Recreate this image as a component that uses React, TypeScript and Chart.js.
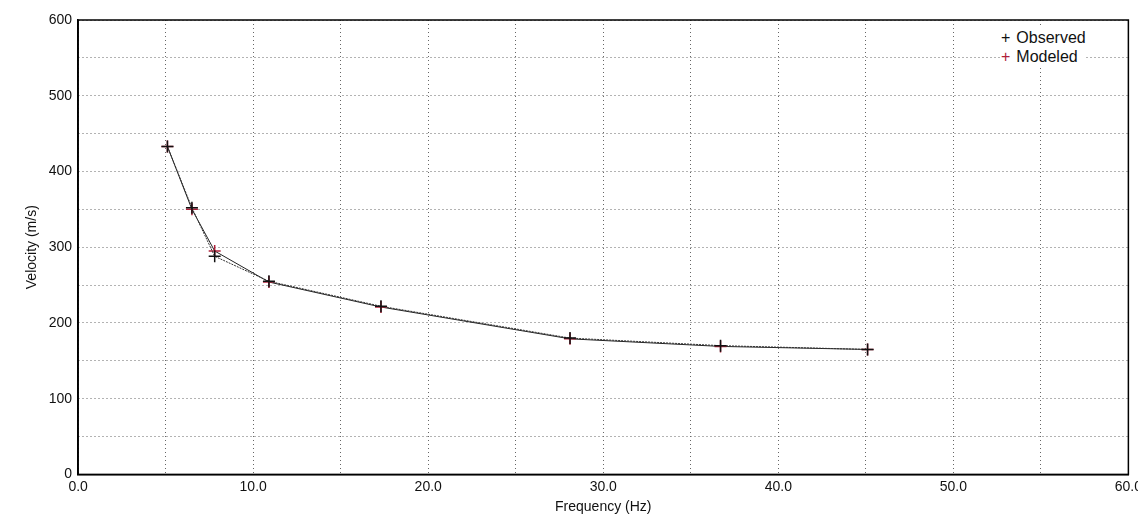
import React, { useEffect, useRef } from 'react';
import Chart from 'chart.js/auto';

const frequencies = [5.1, 6.5, 7.8, 10.9, 17.3, 28.1, 36.7, 45.1];
const observed = [433, 352, 288, 255, 222, 180, 170, 165];
const modeled = [433, 350, 295, 254, 221, 179, 169, 165];

const App = () => {
  const canvasRef = useRef<HTMLCanvasElement>(null);

  useEffect(() => {
    if (!canvasRef.current) return;
    const toPts = (vals: number[]) => frequencies.map((f, i) => ({ x: f, y: vals[i] }));
    const grid = { color: '#666', lineWidth: 1, drawTicks: false };
    const border = { color: '#000', width: 1.5, dash: [1, 3] };
    const chart = new Chart(canvasRef.current, {
      type: 'scatter',
      data: {
        datasets: [
          {
            label: 'Observed', data: toPts(observed), showLine: true,
            borderColor: '#333', borderWidth: 1, borderDash: [2, 1],
            pointStyle: 'cross', pointRadius: 6, pointBorderWidth: 1.5,
            pointBorderColor: '#111', pointBackgroundColor: '#111',
          },
          {
            label: 'Modeled', data: toPts(modeled), showLine: true,
            borderColor: '#222', borderWidth: 1,
            pointStyle: 'cross', pointRadius: 6, pointBorderWidth: 1.5,
            pointBorderColor: '#b0203a', pointBackgroundColor: '#b0203a',
          },
        ],
      },
      options: {
        animation: false,
        responsive: false,
        layout: { padding: { top: 20, right: 8, left: 22, bottom: 10 } },
        plugins: { legend: { display: false }, tooltip: { enabled: false } },
        scales: {
          x: {
            type: 'linear', min: 0, max: 60,
            border, grid,
            ticks: {
              stepSize: 5, color: '#111', padding: 4,
              font: { family: 'Liberation Sans', size: 14 },
              callback: (v: any) => (v % 10 === 0 ? Number(v).toFixed(1) : ''),
            },
            title: { display: true, text: 'Frequency (Hz)', color: '#111', padding: 0, font: { family: 'Liberation Sans', size: 14 } },
          },
          y: {
            min: 0, max: 600,
            border, grid,
            ticks: {
              stepSize: 50, color: '#111', padding: 6,
              font: { family: 'Liberation Sans', size: 14 },
              callback: (v: any) => (v % 100 === 0 ? String(v) : ''),
            },
            title: { display: true, text: 'Velocity (m/s)', color: '#111', padding: 2, font: { family: 'Liberation Sans', size: 14 } },
          },
        },
      },
      plugins: [{
        id: 'frame',
        afterDraw(c: any) {
          const { ctx, chartArea: a } = c;
          ctx.save();
          ctx.strokeStyle = '#000';
          ctx.lineWidth = 1.5;
          ctx.setLineDash([]);
          ctx.strokeRect(a.left, a.top, a.right - a.left, a.bottom - a.top);
          ctx.restore();
        },
      }],
    });
    return () => chart.destroy();
  }, []);

  const legendRow = { display: 'flex', alignItems: 'center', gap: 6, lineHeight: '19px' } as const;
  return (
    <div style={{ position: 'relative', width: 1146, height: 526, margin: -8, fontFamily: 'Liberation Sans', fontSize: 16, color: '#111' }}>
      <canvas ref={canvasRef} width={1146} height={526} />
      <div style={{ position: 'absolute', left: 1001, top: 28, background: 'white' }}>
        <div style={legendRow}><span style={{ color: '#111' }}>+</span>Observed</div>
        <div style={legendRow}><span style={{ color: '#b0203a' }}>+</span>Modeled</div>
      </div>
    </div>
  );
};

export default App;
